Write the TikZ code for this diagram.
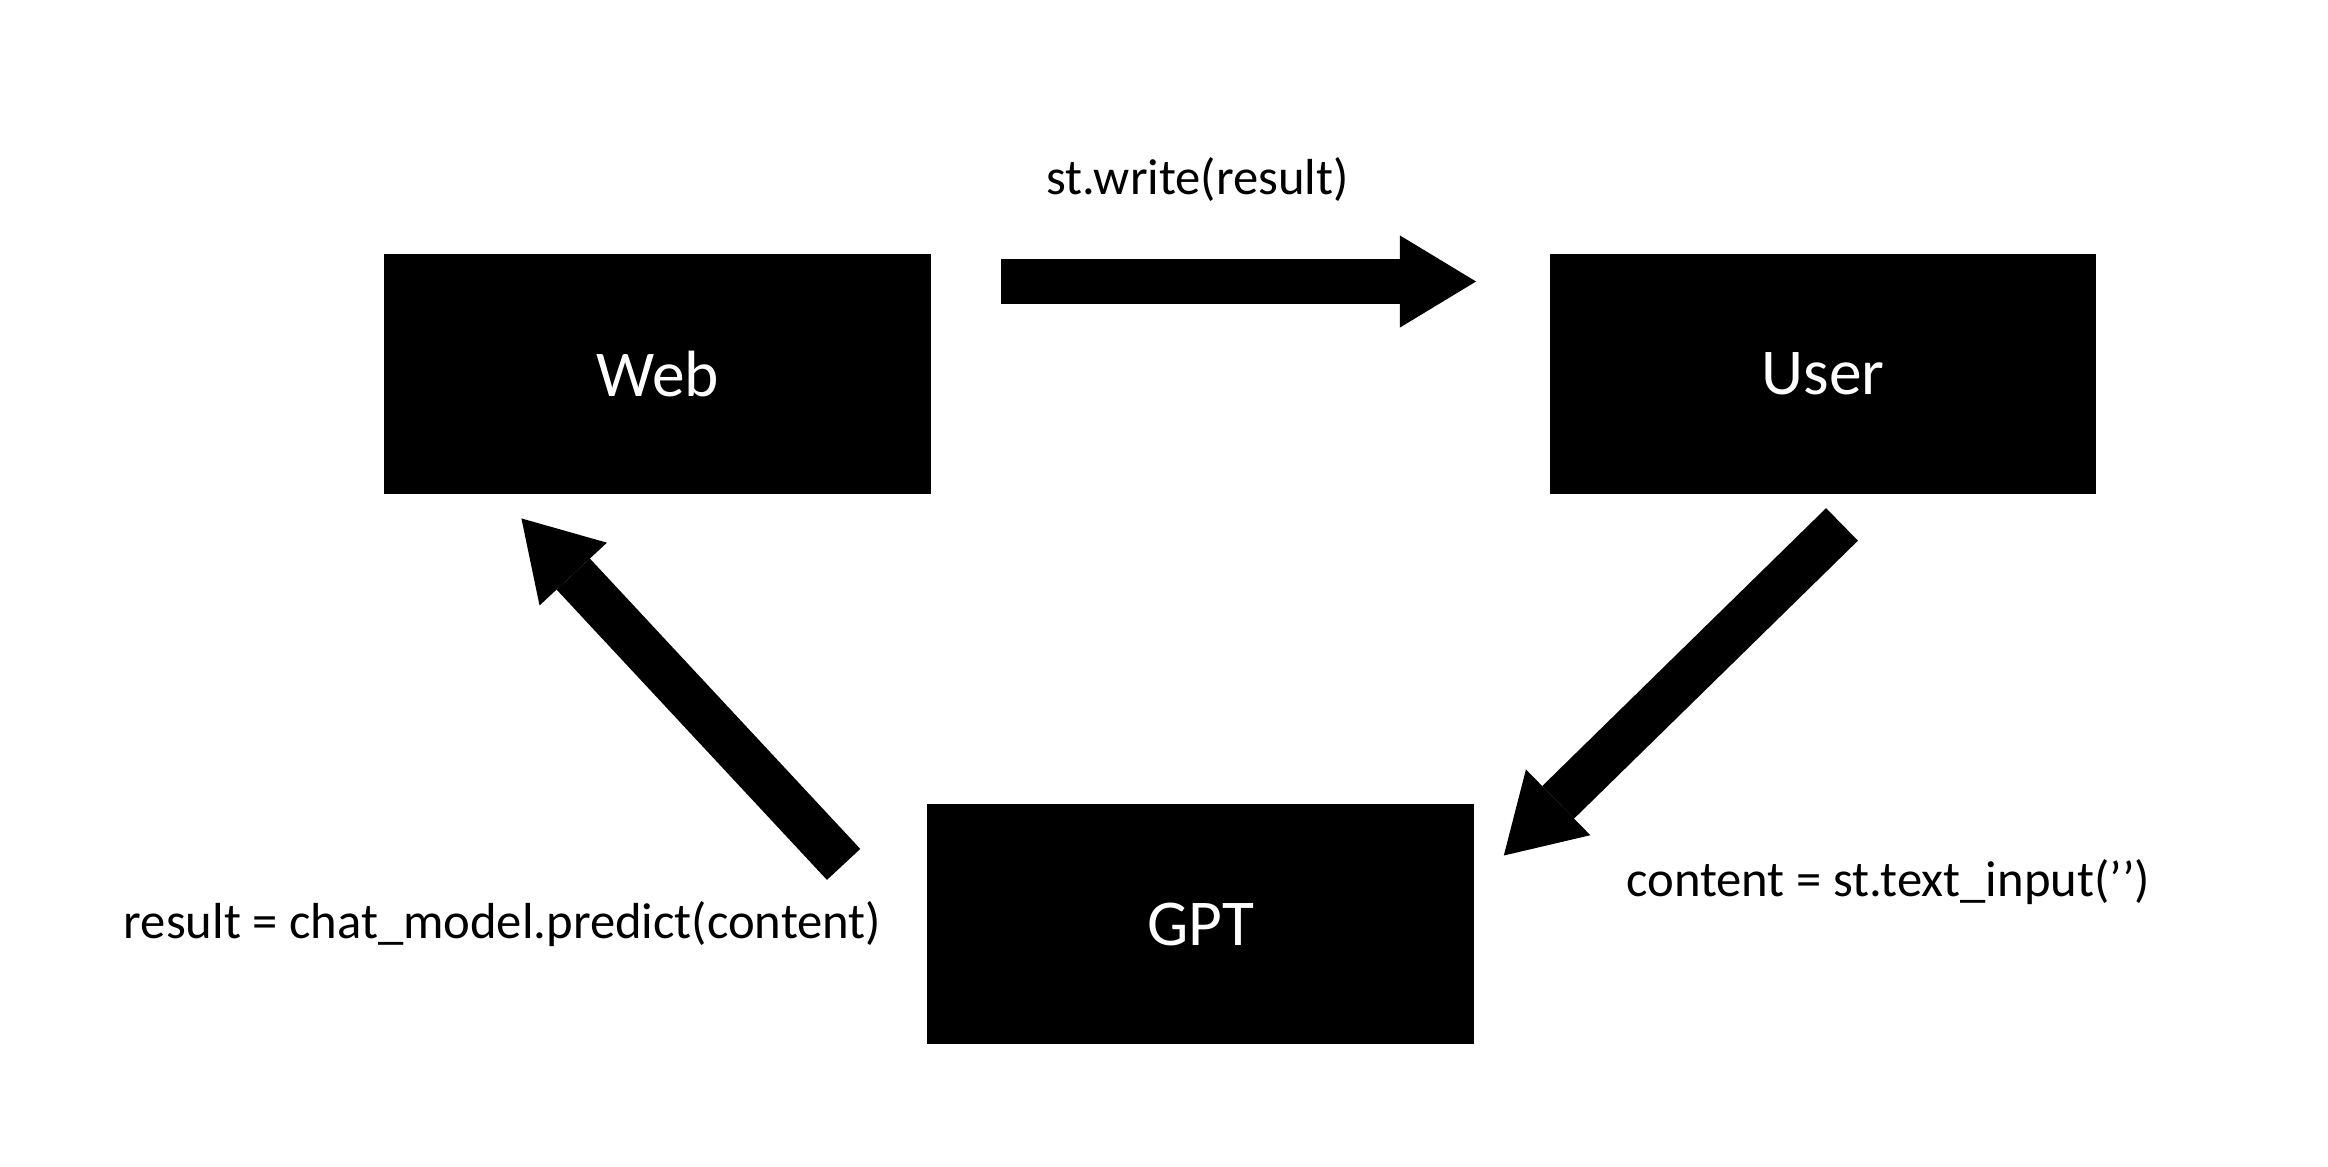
\documentclass[tikz,border=0pt]{standalone}
\usepackage{fontspec}
\setmainfont{Carlito}
\usetikzlibrary{arrows.meta}
\tikzset{
  box/.style={fill=black, draw=none, minimum width=5.46cm, minimum height=2.40cm, inner sep=0pt, text=white, font=\fontsize{18.6}{22}\selectfont},
  lbl/.style={text=black, inner sep=0pt, font=\fontsize{14.4}{17}\selectfont},
  blockarrow/.style={line width=4.55mm, line cap=butt, -{Triangle[length=7.6mm, width=9.2mm, line width=0pt]}}
}
\begin{document}
\begin{tikzpicture}[x=0.01cm, y=-0.01cm]
\useasboundingbox (0,0) rectangle (2328,1166);
\node[box] (web) at (657.5,374) {Web};
\node[box] (user) at (1823,374) {User};
\node[box] (gpt) at (1200.5,924) {GPT};
\coordinate (a1s) at (1001,281.5);
\coordinate (a1e) at (1476,281.5);
\coordinate (a2s) at (1842,524.4);
\coordinate (a2e) at (1503.8,855.5);
\coordinate (a3s) at (843.6,864.4);
\coordinate (a3e) at (521.4,518.4);
\draw[blockarrow] (a1s) -- (a1e);
\draw[blockarrow] (a2s) -- (a2e);
\draw[blockarrow] (a3s) -- (a3e);
\node[lbl] (l1) at (1197.7,179.4) {st.write(result)};
\node[lbl] (l2) at (1888.4,882.3) {content = st.text\_input(’’)};
\node[lbl] (l3) at (502.6,923.9) {result = chat\_model.predict(content)};
\end{tikzpicture}
\end{document}
